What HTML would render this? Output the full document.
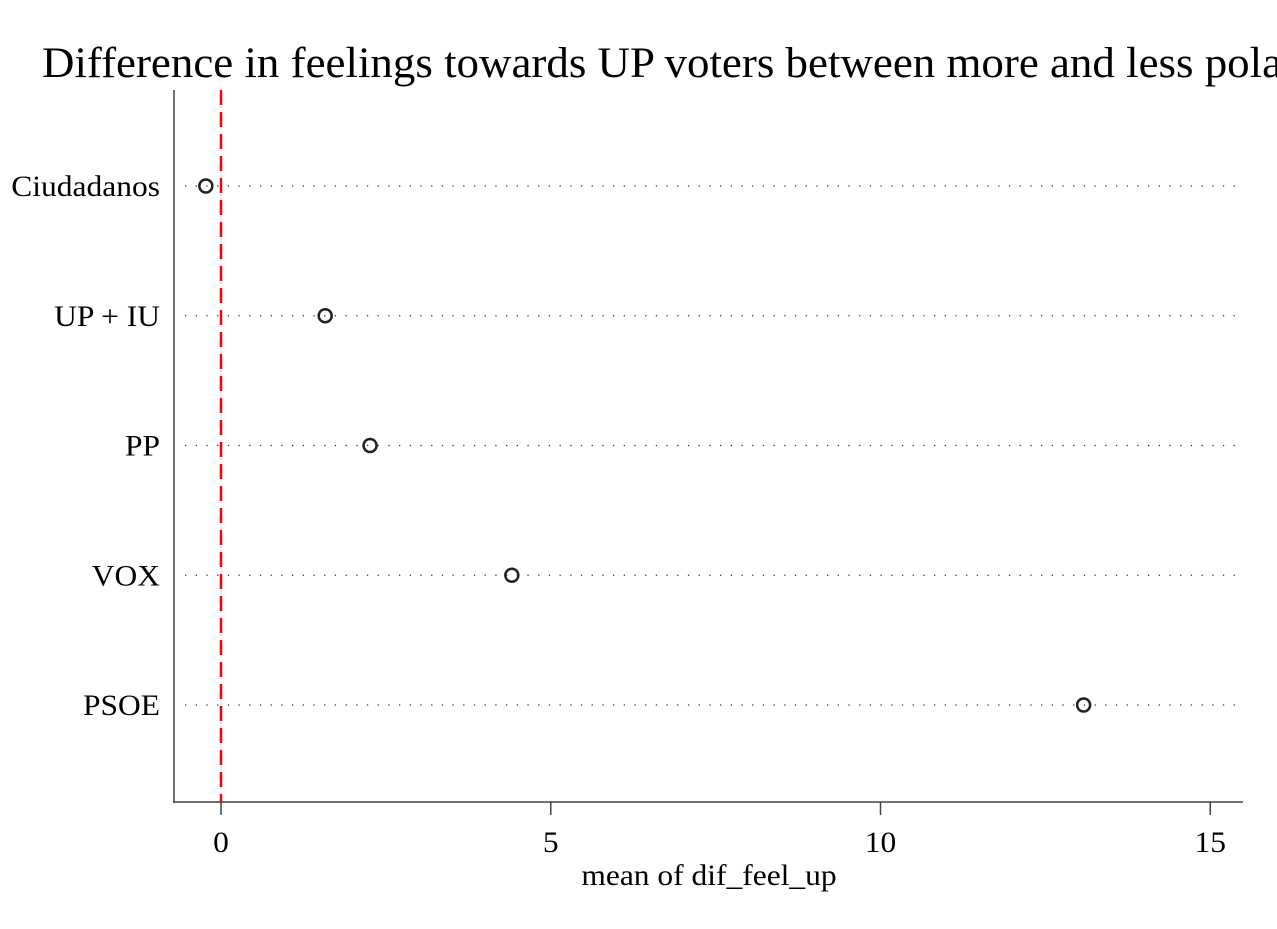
<!DOCTYPE html>
<html><head><meta charset="utf-8"><style>body{margin:0;background:#fff}svg{display:block}text{font-family:"Liberation Serif",serif}</style></head>
<body>
<svg id="chart" width="1277" height="929" viewBox="0 0 1277 929" xmlns="http://www.w3.org/2000/svg">
<rect width="1277" height="929" fill="#fff"/>
<text transform="translate(42,77) scale(1.045,1)" font-size="43">Difference in feelings towards UP voters between more and less polarized</text>
<g id="g"></g>
</svg>
<script>
const categories=["Ciudadanos","UP + IU","PP","VOX","PSOE"];
const values=[-0.23,1.58,2.26,4.41,13.08];
const xTicks=[0,5,10,15];
const NS="http://www.w3.org/2000/svg";
const g=document.getElementById('g');
const SX=1.05;
const x=v=>221+v*65.95;
const y=i=>186+i*129.75;
function el(t,a,txt){const e=document.createElementNS(NS,t);for(const k in a)e.setAttribute(k,a[k]);if(txt!==undefined)e.textContent=txt;g.appendChild(e);return e;}
function txt(px,py,anchor,s){return el('text',{transform:'translate('+px+','+py+') scale('+SX+',1)','font-size':30,'text-anchor':anchor},s);}
categories.forEach((c,i)=>{
 const l=el('line',{x1:185,x2:1240,y1:y(i),y2:y(i),stroke:'#333','stroke-width':1.3,'stroke-dasharray':'1.3 9.4'});
 
 
 const t=txt(160,y(i)+10,'end',c);
 
 
});
const z=el('line',{x1:x(0),x2:x(0),y1:90,y2:802,stroke:'#ff0000','stroke-width':2.5,'stroke-dasharray':'15 7'});


const ya=el('line',{x1:174,x2:174,y1:90,y2:803,stroke:'#444','stroke-width':1.5});


const xa=el('line',{x1:173,x2:1243,y1:802,y2:802,stroke:'#444','stroke-width':1.5});


xTicks.forEach(v=>{
 const tk=el('line',{x1:x(v),x2:x(v),y1:802,y2:815,stroke:'#444','stroke-width':1.5});
 
 
 const t=txt(x(v),852,'middle',String(v));
 
 
});
values.forEach((v,i)=>{
 const p=el('circle',{cx:x(v),cy:y(i),r:6.5,fill:'none',stroke:'#222','stroke-width':2.5});
 
 
});
const xt=txt(709,885,'middle','mean of dif_feel_up');


</script>
</body></html>
